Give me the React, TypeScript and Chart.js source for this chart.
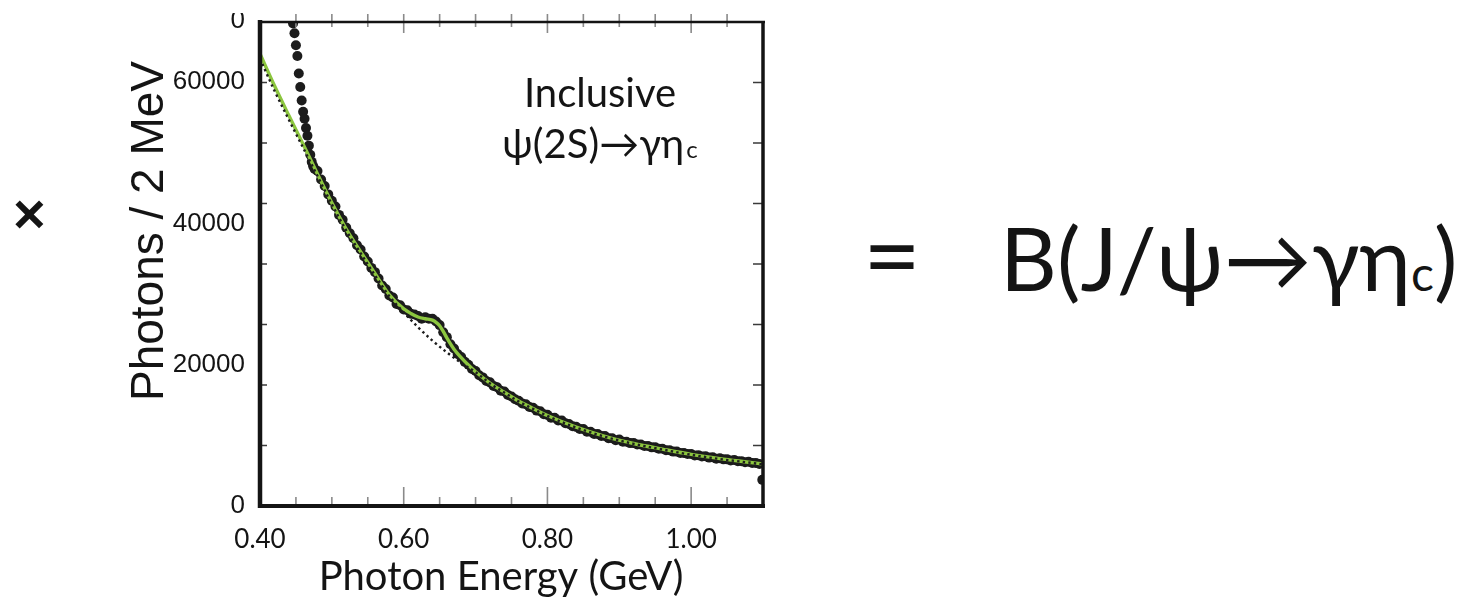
import React, { useEffect, useRef } from "react";
import { Chart, registerables } from "chart.js";

Chart.register(...registerables);

// ---- measured spectrum: inclusive photons ----
const dataEnergy = [
  0.446, 0.448, 0.45, 0.452, 0.454, 0.456, 0.458, 0.46, 0.462, 0.464, 0.466, 0.468, 0.47, 0.472, 0.474, 0.476,
  0.48, 0.485, 0.49, 0.495, 0.5, 0.505, 0.51, 0.515, 0.52, 0.525, 0.53, 0.535, 0.54, 0.545, 0.55, 0.555,
  0.56, 0.565, 0.57, 0.575, 0.58, 0.585, 0.59, 0.595, 0.6, 0.605, 0.61, 0.615, 0.62, 0.625, 0.63, 0.635,
  0.64, 0.645, 0.65, 0.655, 0.66, 0.665, 0.67, 0.675, 0.68, 0.685, 0.69, 0.695, 0.7, 0.705, 0.71, 0.715,
  0.72, 0.725, 0.73, 0.735, 0.74, 0.745, 0.75, 0.755, 0.76, 0.765, 0.77, 0.775, 0.78, 0.785, 0.79, 0.795,
  0.8, 0.805, 0.81, 0.815, 0.82, 0.825, 0.83, 0.835, 0.84, 0.845, 0.85, 0.855, 0.86, 0.865, 0.87, 0.875,
  0.88, 0.885, 0.89, 0.895, 0.9, 0.905, 0.91, 0.915, 0.92, 0.925, 0.93, 0.935, 0.94, 0.945, 0.95, 0.955,
  0.96, 0.965, 0.97, 0.975, 0.98, 0.985, 0.99, 0.995, 1.0, 1.005, 1.01, 1.015, 1.02, 1.025, 1.03, 1.035,
  1.04, 1.045, 1.05, 1.055, 1.06, 1.065, 1.07, 1.075, 1.08, 1.085, 1.09, 1.095, 1.099,
];
const dataCounts = [
  68300, 66900, 65200, 63700, 61200, 59300, 57400, 55800, 54800, 53500, 52400, 51000, 49700, 48700, 48100, 47700,
  47400, 46200, 45300, 44100, 43200, 42400, 41200, 40500, 39400, 38600, 37900, 36900, 36300, 35300, 34600, 33700,
  33100, 32200, 31200, 30700, 29800, 29500, 28600, 28400, 27800, 27700, 27200, 27100, 26900, 26500, 26700, 26500,
  26500, 26100, 25600, 24600, 23900, 22900, 22300, 21500, 21100, 20400, 20000, 19400, 19100, 18500, 18200, 17700,
  17500, 17000, 16800, 16300, 16200, 15700, 15500, 15100, 14900, 14500, 14400, 14000, 13900, 13500, 13400, 13000,
  12900, 12500, 12500, 12100, 12100, 11700, 11600, 11300, 11200, 10900, 10900, 10500, 10500, 10200, 10200, 9900,
  9900, 9600, 9600, 9300, 9400, 9100, 9100, 8900, 8900, 8700, 8700, 8500, 8500, 8300, 8300, 8100,
  8100, 7900, 7900, 7700, 7700, 7500, 7500, 7350, 7350, 7150, 7200, 7000, 7050, 6850, 6900, 6700,
  6750, 6600, 6600, 6450, 6500, 6350, 6350, 6200, 6250, 6100, 6100, 5950, 3700,
];

// ---- total fit (signal + background) ----
const fitEnergy = [
  0.4, 0.42, 0.44, 0.46, 0.48, 0.5, 0.52, 0.54, 0.56, 0.58, 0.6, 0.61, 0.62, 0.63, 0.64, 0.645, 0.65, 0.655,
  0.66, 0.67, 0.68, 0.69, 0.7, 0.72, 0.74, 0.76, 0.78, 0.8, 0.84, 0.88, 0.92, 0.96, 1.0, 1.04, 1.08, 1.1,
];
const fitCounts = [
  64000, 59500, 55300, 51200, 47000, 42900, 39200, 36000, 32900, 29900, 27900, 27250, 26750, 26500, 26300, 26000, 25500, 24700,
  23800, 22200, 21000, 19950, 19000, 17400, 16100, 14850, 13800, 12800, 11150, 9850, 8850, 8050, 7300, 6700, 6200, 5950,
];

// ---- background only ----
const bgEnergy = [
  0.4, 0.42, 0.44, 0.46, 0.48, 0.5, 0.52, 0.54, 0.56, 0.58, 0.6, 0.62, 0.64, 0.66, 0.68, 0.7, 0.72, 0.74, 0.76,
  0.78, 0.8, 0.84, 0.88, 0.92, 0.96, 1.0, 1.04, 1.08, 1.1,
];
const bgCounts = [
  63300, 58800, 54700, 50700, 46700, 42700, 39000, 35800, 32650, 29700, 27400, 25300, 23400, 21750, 20250, 18950, 17350, 16050, 14800,
  13750, 12750, 11100, 9800, 8800, 8000, 7250, 6650, 6150, 5900,
];

// ---- axes ----
const xMin = 0.4;
const xMax = 1.1;
const xStep = 0.05;
const xTickLabels = ["0.40", "0.60", "0.80", "1.00"];
const yMin = 0;
const yMax = 68500;
const yTickValues = [0, 20000, 40000, 60000];
const yFrameDivisions = 8;
const clippedTopLabel = "0";

const xTitle = "Photon Energy (GeV)";
const yTitle = "Photons / 2 MeV";
const noteLine1 = "Inclusive";
const noteLine2 = "\u03c8(2S)\u2192\u03b3\u03b7";
const noteSub = "c";

const GILL = "Lato, 'Noto Sans', 'DejaVu Sans', sans-serif";
const HELV = "'Liberation Sans', Arial, Helvetica, sans-serif";
const INK = "#141414";
const FIT_GREEN = "#8cc63f";

const pairs = (xs: number[], ys: number[]) => xs.map((x, i) => ({ x, y: ys[i] }));

const framePlugin = {
  id: "frameAndNotes",
  afterDatasetsDraw(chart: any) {
    const { ctx, chartArea } = chart;
    const { left, right, top, bottom } = chartArea;
    const xs = chart.scales.x;
    const ys = chart.scales.y;
    ctx.save();
    ctx.lineCap = "butt";

    // x tick marks: inward at the bottom, crossing the top edge
    xs.ticks.forEach((t: any) => {
      const px = xs.getPixelForValue(t.value);
      if (px < left + 3 || px > right - 3) return;
      const major = xTickLabels.includes(Number(t.value).toFixed(2));
      ctx.strokeStyle = "#8a8a8a";
      ctx.lineWidth = 1.6;
      ctx.beginPath();
      ctx.moveTo(px, bottom);
      ctx.lineTo(px, bottom - (major ? 19 : 9));
      ctx.moveTo(px, top - 8);
      ctx.lineTo(px, top + (major ? 11 : 5));
      ctx.stroke();
    });

    // y tick marks on both vertical edges
    for (let i = 1; i < yFrameDivisions; i++) {
      const py = ys.getPixelForValue(yMin + ((ys.max - yMin) * i) / yFrameDivisions);
      ctx.strokeStyle = "#3a3a3a";
      ctx.lineWidth = 1.6;
      ctx.beginPath();
      ctx.moveTo(left, py);
      ctx.lineTo(left + 7, py);
      ctx.moveTo(right, py);
      ctx.lineTo(right - 10, py);
      ctx.stroke();
    }

    // frame
    ctx.strokeStyle = INK;
    const seg = (w: number, x1: number, y1: number, x2: number, y2: number) => {
      ctx.lineWidth = w;
      ctx.beginPath();
      ctx.moveTo(x1, y1);
      ctx.lineTo(x2, y2);
      ctx.stroke();
    };
    seg(2.5, left, top, right + 2, top);
    seg(3.5, right, top - 1, right, bottom);
    seg(4, left - 2, bottom, right + 2, bottom);
    seg(4.5, left, top - 2, left, bottom + 2);
    ctx.restore();
  },
  afterDraw(chart: any) {
    const { ctx } = chart;
    ctx.save();
    ctx.fillStyle = INK;

    // annotation inside the frame
    ctx.textBaseline = "alphabetic";
    ctx.textAlign = "center";
    ctx.font = `40px ${GILL}`;
    ctx.fillText(noteLine1, 600, 107);
    ctx.textAlign = "left";
    const w1 = ctx.measureText(noteLine2).width;
    ctx.font = `24px ${GILL}`;
    const w2 = ctx.measureText(noteSub).width;
    const x0 = 600 - (w1 + w2 + 2) / 2;
    ctx.font = `40px ${GILL}`;
    ctx.fillText(noteLine2, x0, 158);
    ctx.font = `24px ${GILL}`;
    ctx.fillText(noteSub, x0 + w1 + 2, 158);

    // x axis title
    ctx.textAlign = "center";
    ctx.font = `40px ${GILL}`;
    ctx.fillText(xTitle, 501, 590);

    // y axis title
    ctx.save();
    ctx.translate(163, 231);
    ctx.rotate(-Math.PI / 2);
    ctx.font = `46px ${HELV}`;
    ctx.textAlign = "center";
    ctx.fillText(yTitle, 0, 0);
    ctx.restore();

    // partly hidden label at the top of the y axis
    ctx.save();
    ctx.beginPath();
    ctx.rect(231, 13, 20, 30);
    ctx.clip();
    ctx.font = `26px ${HELV}`;
    ctx.textAlign = "right";
    ctx.textBaseline = "middle";
    ctx.fillText(clippedTopLabel, 245, 21);
    ctx.restore();

    ctx.restore();
  },
};

function SpectrumChart() {
  const ref = useRef<HTMLCanvasElement | null>(null);
  useEffect(() => {
    if (!ref.current) return;
    const chart = new Chart(ref.current, {
      type: "scatter",
      data: {
        datasets: [
          {
            label: "Data",
            data: pairs(dataEnergy, dataCounts),
            showLine: false,
            pointRadius: 5,
            pointBackgroundColor: "#1c1c1c",
            pointBorderWidth: 0,
            order: 3,
          },
          {
            label: "Fit",
            data: pairs(fitEnergy, fitCounts),
            showLine: true,
            borderColor: FIT_GREEN,
            borderWidth: 3.4,
            pointRadius: 0,
            cubicInterpolationMode: "monotone",
            order: 2,
          },
          {
            label: "Background",
            data: pairs(bgEnergy, bgCounts),
            showLine: true,
            borderColor: "#1e1e1e",
            borderWidth: 2.4,
            borderDash: [2.4, 3.2],
            pointRadius: 0,
            cubicInterpolationMode: "monotone",
            order: 1,
          },
        ],
      },
      options: {
        animation: false,
        responsive: true,
        maintainAspectRatio: false,
        layout: { padding: { left: 0, top: 22, right: 37, bottom: 0 } },
        plugins: { legend: { display: false }, tooltip: { enabled: false } },
        scales: {
          x: {
            type: "linear",
            min: xMin,
            max: xMax,
            grid: { display: false, drawTicks: false },
            border: { display: false },
            ticks: {
              stepSize: xStep,
              autoSkip: false,
              maxRotation: 0,
              padding: 18,
              color: INK,
              font: { family: GILL, size: 26 },
              callback: (v: any) => {
                const s = Number(v).toFixed(2);
                return xTickLabels.includes(s) ? s : "";
              },
            },
            afterFit: (s: any) => {
              s.height = 97;
              s.paddingLeft = 0;
              s.paddingRight = 0;
            },
          },
          y: {
            type: "linear",
            min: yMin,
            max: yMax,
            grid: { display: false, drawTicks: false },
            border: { display: false },
            afterBuildTicks: (s: any) => {
              s.ticks = yTickValues.map((value) => ({ value }));
            },
            ticks: {
              padding: 15,
              color: INK,
              font: { family: HELV, size: 26 },
              callback: (v: any) => String(v),
            },
            afterFit: (s: any) => {
              s.width = 260;
              s.paddingTop = 0;
              s.paddingBottom = 0;
            },
          },
        },
      },
      plugins: [framePlugin],
    });
    return () => chart.destroy();
  }, []);
  return <canvas ref={ref} />;
}

export default function App() {
  return (
    <div
      style={{
        position: "absolute",
        left: 0,
        top: 0,
        width: 1477,
        height: 603,
        overflow: "hidden",
        background: "#fff",
        color: INK,
      }}
    >
      <div style={{ position: "absolute", left: 0, top: 0, width: 800, height: 603 }}>
        <SpectrumChart />
      </div>
      <div
        style={{
          position: "absolute",
          left: 13,
          top: 186,
          fontFamily: HELV,
          fontWeight: "bold",
          fontSize: 56,
          lineHeight: "56px",
          whiteSpace: "nowrap",
        }}
      >
        ×
      </div>
      <div
        style={{
          position: "absolute",
          left: 863,
          top: 202,
          fontFamily: GILL,
          fontSize: 100,
          lineHeight: "100px",
          whiteSpace: "nowrap",
        }}
      >
        =
      </div>
      <div
        style={{
          position: "absolute",
          left: 1000,
          top: 213,
          fontFamily: GILL,
          fontSize: 88,
          lineHeight: "88px",
          whiteSpace: "nowrap",
        }}
      >
        B(J/ψ→γη<span style={{ fontSize: 48 }}>c</span>)
      </div>
    </div>
  );
}
